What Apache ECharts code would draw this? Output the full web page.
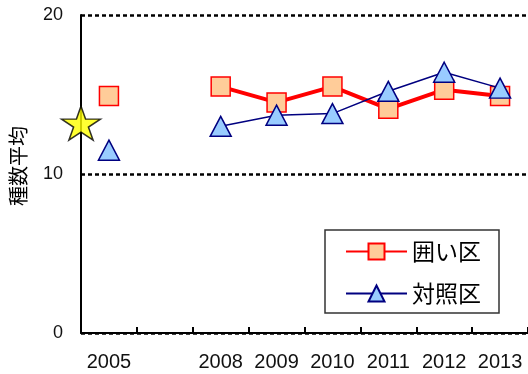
<!DOCTYPE html>
<html>
<head>
<meta charset="utf-8">
<script src="https://cdn.jsdelivr.net/npm/echarts@6/dist/echarts.min.js"></script>
<style>
  html, body { margin: 0; padding: 0; background: #fff; }
  #chart { width: 528px; height: 374px; }
</style>
</head>
<body>
<div id="chart"></div>
<script>
// Survey years (one empty slot for the years without data)
const years = ['2005', '', '2008', '2009', '2010', '2011', '2012', '2013'];
// Mean species count per plot type
const fencedValues  = [14.9, null, 15.5, 14.5, 15.5, 14.1, 15.3, 14.9];
const controlValues = [11.5, null, 13.0, 13.7, 13.8, 15.2, 16.4, 15.4];
// Reference value shown as a star on the y axis
const referenceValue = 13.2;
const yTicks = { min: 0, max: 20, interval: 10 };

const NUM_FONT = '"Liberation Sans", Arial, sans-serif';
const JP_FONT = '"Noto Sans CJK JP", sans-serif';
const STAR = 'path://M0,-100L22.45,-30.9L95.1,-30.9L36.3,11.8L58.8,80.9L0,38.2L-58.8,80.9L-36.3,11.8L-95.1,-30.9L-22.45,-30.9Z';

const chart = echarts.init(document.getElementById('chart'), null, { renderer: 'canvas' });
chart.setOption({
  animation: false,
  backgroundColor: '#fff',
  grid: { left: 81, right: -2, top: 15, bottom: 41, containLabel: false },
  xAxis: [{
    type: 'category',
    data: years,
    boundaryGap: true,
    axisLine: { lineStyle: { color: '#000', width: 2 } },
    axisTick: { show: true, inside: true, length: 6, interval: 0, lineStyle: { color: '#000', width: 2 } },
    axisLabel: { interval: 0, color: '#111', fontSize: 20, margin: 19, fontFamily: NUM_FONT },
    splitLine: { show: false }
  }, {
    type: 'value',
    min: 0, max: years.length,
    show: false
  }],
  yAxis: {
    type: 'value',
    min: yTicks.min, max: yTicks.max, interval: yTicks.interval,
    name: '種数平均',
    nameLocation: 'middle',
    nameRotate: 90,
    nameGap: 53,
    nameTextStyle: { color: '#000', fontSize: 20, fontFamily: JP_FONT, padding: [0, 0, 0, 16] },
    axisLine: { show: true, lineStyle: { color: '#000', width: 2 } },
    axisTick: { show: false },
    axisLabel: { color: '#111', fontSize: 18, margin: 18, fontFamily: NUM_FONT },
    splitLine: { show: true, lineStyle: { color: '#000', width: 2.5, type: [4, 3] } }
  },
  legend: {
    orient: 'vertical',
    left: 325, top: 230,
    padding: [10, 18, 8, 20],
    itemWidth: 61, itemHeight: 20, itemGap: 19,
    borderColor: '#333', borderWidth: 1.5,
    textStyle: { color: '#000', fontSize: 23, fontFamily: JP_FONT },
    data: ['囲い区', '対照区']
  },
  series: [{
    name: '囲い区',
    type: 'line',
    data: fencedValues,
    connectNulls: false,
    symbol: 'rect',
    symbolSize: 19,
    lineStyle: { color: '#ff0000', width: 4 },
    itemStyle: { color: '#ffcc99', borderColor: '#ff0000', borderWidth: 1.5 },
    z: 3
  }, {
    name: '対照区',
    type: 'line',
    data: controlValues,
    connectNulls: false,
    symbol: 'triangle',
    symbolSize: [21, 20],
    lineStyle: { color: '#000080', width: 1.5 },
    itemStyle: { color: '#99ccff', borderColor: '#000080', borderWidth: 1.5 },
    z: 4
  }, {
    name: 'star',
    type: 'scatter',
    xAxisIndex: 1,
    data: [[0, referenceValue]],
    symbol: STAR,
    symbolSize: [39, 34],
    clip: false,
    itemStyle: { color: '#ffff00', borderColor: '#000', borderWidth: 1.5 },
    z: 5
  }]
});
</script>
</body>
</html>
